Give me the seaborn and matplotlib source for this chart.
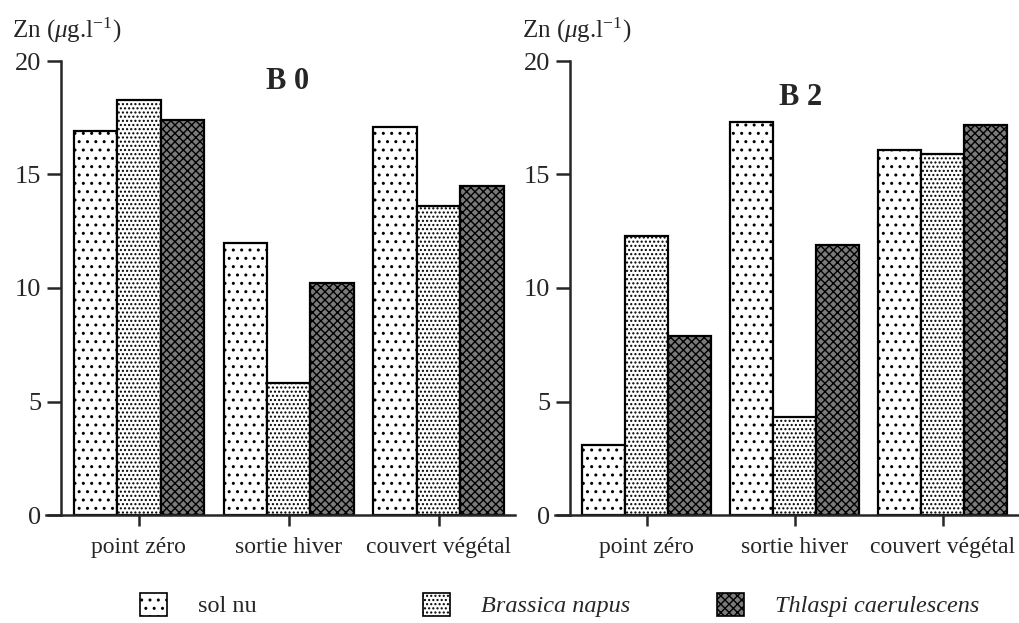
import pandas as pd
import numpy as np
import matplotlib.pyplot as plt
import seaborn as sns
from matplotlib.patches import Patch

periods = ['point zéro', 'sortie hiver', 'couvert végétal']
treatments = ['sol nu', 'Brassica napus', 'Thlaspi caerulescens']
sites = ['B 0', 'B 2']

# Zn values (µg/l)
b0_sol_nu = [16.9, 12.0, 17.1]
b0_brassica = [18.3, 5.8, 13.6]
b0_thlaspi = [17.4, 10.2, 14.5]

b2_sol_nu = [3.1, 17.3, 16.1]
b2_brassica = [12.3, 4.3, 15.9]
b2_thlaspi = [7.9, 11.9, 17.2]

rows = []
for site, series in zip(sites, [[b0_sol_nu, b0_brassica, b0_thlaspi],
                                [b2_sol_nu, b2_brassica, b2_thlaspi]]):
    for treat, vals in zip(treatments, series):
        for per, v in zip(periods, vals):
            rows.append({'site': site, 'period': per, 'treatment': treat, 'zn': v})
df = pd.DataFrame(rows)

sns.set_style('ticks')
plt.rcParams['font.family'] = ['Liberation Serif', 'DejaVu Serif']
plt.rcParams['mathtext.fontset'] = 'custom'
plt.rcParams['mathtext.rm'] = 'Liberation Serif'
plt.rcParams['mathtext.it'] = 'Liberation Serif:italic'
plt.rcParams['hatch.linewidth'] = 1.0

colors = ['white', 'white', '#7a7a7a']
hatches = ['..', '....', 'xxxx']

fig = plt.figure(figsize=(10.2, 6.23), dpi=100)
ax1 = fig.add_axes([46/1020, 108/623, 469/1020, 454/623])
ax2 = fig.add_axes([555/1020, 108/623, 463/1020, 454/623])

title_pos = [(0.514, 0.954), (0.531, 0.92)]
for ax, site, tp in zip([ax1, ax2], sites, title_pos):
    sns.barplot(data=df[df['site'] == site], x='period', y='zn', hue='treatment',
                order=periods, hue_order=treatments, palette=colors, saturation=1,
                edgecolor='black', linewidth=1.6, width=0.87, errorbar=None,
                legend=False, ax=ax)
    for cont, h in zip(ax.containers, hatches):
        for bar in cont:
            bar.set_hatch(h)
    ax.set_xlim(-0.62, 2.51)
    ax.set_ylim(0, 20)
    ax.set_yticks([0, 5, 10, 15, 20])
    ax.set_xlabel('')
    ax.set_ylabel('')
    sns.despine(ax=ax)
    ax.spines['left'].set_position(('data', -0.52))
    ax.spines['left'].set_linewidth(1.8)
    ax.spines['bottom'].set_linewidth(1.8)
    ax.tick_params(axis='y', length=10, width=1.8, labelsize=19, pad=4)
    ax.tick_params(axis='x', length=8, width=1.8, labelsize=17, pad=8)
    ax.text(tp[0], tp[1], site, transform=ax.transAxes, ha='center', va='center',
            fontsize=22, fontweight='bold')

fig.text(12/1020, 1 - 30/623, r'Zn ($\mu$g.l$^{\mathregular{-1}}$)', ha='left', va='center', fontsize=18)
fig.text(522/1020, 1 - 30/623, r'Zn ($\mu$g.l$^{\mathregular{-1}}$)', ha='left', va='center', fontsize=18)

# legend entries placed one by one
leg_x = [140/1020, 423/1020, 717/1020]
for i, (treat, c, h) in enumerate(zip(treatments, colors, hatches)):
    leg = fig.legend(handles=[Patch(facecolor=c, edgecolor='black', hatch=h, linewidth=1.2)],
                     labels=[treat], loc='center left', bbox_to_anchor=(leg_x[i], 1 - 605/623),
                     frameon=False, fontsize=17.5, handlelength=1.1, handleheight=1.1,
                     handletextpad=1.3, borderpad=0, borderaxespad=0)
    if i > 0:
        leg.get_texts()[0].set_style('italic')

fig.savefig('out.png', dpi=100)
